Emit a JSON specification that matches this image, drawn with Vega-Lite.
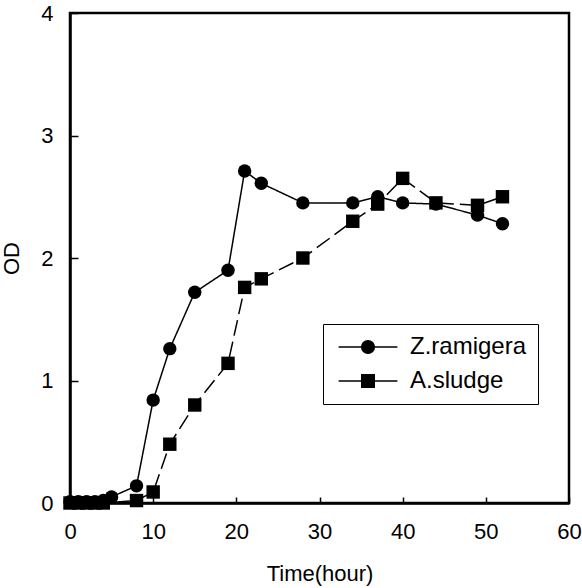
{
  "$schema": "https://vega.github.io/schema/vega-lite/v6.json",
  "width": 499,
  "height": 490,
  "autosize": {"type": "none"},
  "padding": {"left": 70, "top": 13, "right": 13, "bottom": 85},
  "background": "white",
  "config": {
    "font": "Liberation Sans",
    "view": {"stroke": "black", "strokeWidth": 2.5},
    "axis": {
      "grid": false,
      "domainColor": "black",
      "domainWidth": 2.5,
      "tickColor": "black",
      "tickWidth": 1.5,
      "labelColor": "black",
      "titleColor": "black",
      "labelFont": "Liberation Sans",
      "titleFont": "Liberation Sans",
      "titleFontWeight": "normal",
      "labelFontSize": 22,
      "titleFontSize": 22
    }
  },
  "data": {
    "values": [
      {"time": 0, "od": 0.01, "series": "Z.ramigera"},
      {"time": 1, "od": 0.01, "series": "Z.ramigera"},
      {"time": 2, "od": 0.01, "series": "Z.ramigera"},
      {"time": 3, "od": 0.01, "series": "Z.ramigera"},
      {"time": 4, "od": 0.02, "series": "Z.ramigera"},
      {"time": 5, "od": 0.05, "series": "Z.ramigera"},
      {"time": 8, "od": 0.14, "series": "Z.ramigera"},
      {"time": 10, "od": 0.84, "series": "Z.ramigera"},
      {"time": 12, "od": 1.26, "series": "Z.ramigera"},
      {"time": 15, "od": 1.72, "series": "Z.ramigera"},
      {"time": 19, "od": 1.9, "series": "Z.ramigera"},
      {"time": 21, "od": 2.71, "series": "Z.ramigera"},
      {"time": 23, "od": 2.61, "series": "Z.ramigera"},
      {"time": 28, "od": 2.45, "series": "Z.ramigera"},
      {"time": 34, "od": 2.45, "series": "Z.ramigera"},
      {"time": 37, "od": 2.5, "series": "Z.ramigera"},
      {"time": 40, "od": 2.45, "series": "Z.ramigera"},
      {"time": 44, "od": 2.44, "series": "Z.ramigera"},
      {"time": 49, "od": 2.35, "series": "Z.ramigera"},
      {"time": 52, "od": 2.28, "series": "Z.ramigera"},
      {"time": 0, "od": 0.0, "series": "A.sludge"},
      {"time": 1, "od": 0.0, "series": "A.sludge"},
      {"time": 2, "od": 0.0, "series": "A.sludge"},
      {"time": 3, "od": 0.0, "series": "A.sludge"},
      {"time": 4, "od": 0.0, "series": "A.sludge"},
      {"time": 8, "od": 0.02, "series": "A.sludge"},
      {"time": 10, "od": 0.09, "series": "A.sludge"},
      {"time": 12, "od": 0.48, "series": "A.sludge"},
      {"time": 15, "od": 0.8, "series": "A.sludge"},
      {"time": 19, "od": 1.14, "series": "A.sludge"},
      {"time": 21, "od": 1.76, "series": "A.sludge"},
      {"time": 23, "od": 1.83, "series": "A.sludge"},
      {"time": 28, "od": 2.0, "series": "A.sludge"},
      {"time": 34, "od": 2.3, "series": "A.sludge"},
      {"time": 37, "od": 2.44, "series": "A.sludge"},
      {"time": 40, "od": 2.65, "series": "A.sludge"},
      {"time": 44, "od": 2.45, "series": "A.sludge"},
      {"time": 49, "od": 2.43, "series": "A.sludge"},
      {"time": 52, "od": 2.5, "series": "A.sludge"}
    ]
  },
  "encoding": {
    "x": {
      "field": "time",
      "type": "quantitative",
      "scale": {"domain": [0, 60], "nice": false, "zero": false},
      "axis": {"title": "Time(hour)", "values": [0, 10, 20, 30, 40, 50, 60], "tickSize": -6, "labelPadding": 24, "titleY": 77, "titleBaseline": "alphabetic", "labelFlush": false}
    },
    "y": {
      "field": "od",
      "type": "quantitative",
      "scale": {"domain": [0, 4], "nice": false},
      "axis": {"title": "OD", "values": [0, 1, 2, 3, 4], "format": "d", "tickSize": -8, "labelPadding": 25, "titleX": -52, "titleBaseline": "alphabetic", "labelFlush": false}
    }
  },
  "resolve": {"scale": {"shape": "independent"}, "legend": {"shape": "independent", "strokeDash": "independent"}},
  "layer": [
    {
      "mark": {"type": "line", "color": "black", "strokeWidth": 1.5},
      "encoding": {
        "strokeDash": {
          "field": "series",
          "type": "nominal",
          "scale": {"domain": ["Z.ramigera", "A.sludge"], "range": [[1, 0], [16, 6]]},
          "legend": null
        }
      }
    },
    {
      "mark": {"type": "point", "filled": true, "color": "black", "opacity": 1, "size": 180},
      "encoding": {
        "shape": {
          "field": "series",
          "type": "nominal",
          "scale": {"domain": ["Z.ramigera", "A.sludge"], "range": ["circle", "square"]},
          "legend": null
        }
      }
    },
    {
      "mark": {"type": "point", "filled": false, "color": "black", "strokeWidth": 1.6, "opacity": 1, "size": 0},
      "encoding": {
        "shape": {
          "field": "series",
          "type": "nominal",
          "scale": {"domain": ["Z.ramigera", "A.sludge"], "range": ["M-4.2,0H4.2M0.1,0A0.1,0.1,0,1,1,-0.1,0A0.1,0.1,0,1,1,0.1,0M0.3,0A0.3,0.3,0,1,1,-0.3,0A0.3,0.3,0,1,1,0.3,0M0.5,0A0.5,0.5,0,1,1,-0.5,0A0.5,0.5,0,1,1,0.5,0M0.7,0A0.7,0.7,0,1,1,-0.7,0A0.7,0.7,0,1,1,0.7,0M0.9,0A0.9,0.9,0,1,1,-0.9,0A0.9,0.9,0,1,1,0.9,0", "M-4.2,0H4.2M-1,-0.9H1M-1,-0.7H1M-1,-0.5H1M-1,-0.3H1M-1,-0.1H1M-1,0.1H1M-1,0.3H1M-1,0.5H1M-1,0.7H1M-1,0.9H1"]},
          "legend": {
            "title": null,
            "orient": "none",
            "legendX": 253,
            "legendY": 311,
            "strokeColor": "black",
            "padding": 11,
            "symbolSize": 196,
            "symbolOffset": 22,
            "labelOffset": 30,
            "labelFontSize": 24,
            "labelColor": "black",
            "labelFont": "Liberation Sans",
            "rowPadding": 10,
            "symbolOpacity": 1,
            "symbolStrokeColor": "black",
            "symbolStrokeWidth": 1.6
          }
        }
      }
    }
  ]
}
